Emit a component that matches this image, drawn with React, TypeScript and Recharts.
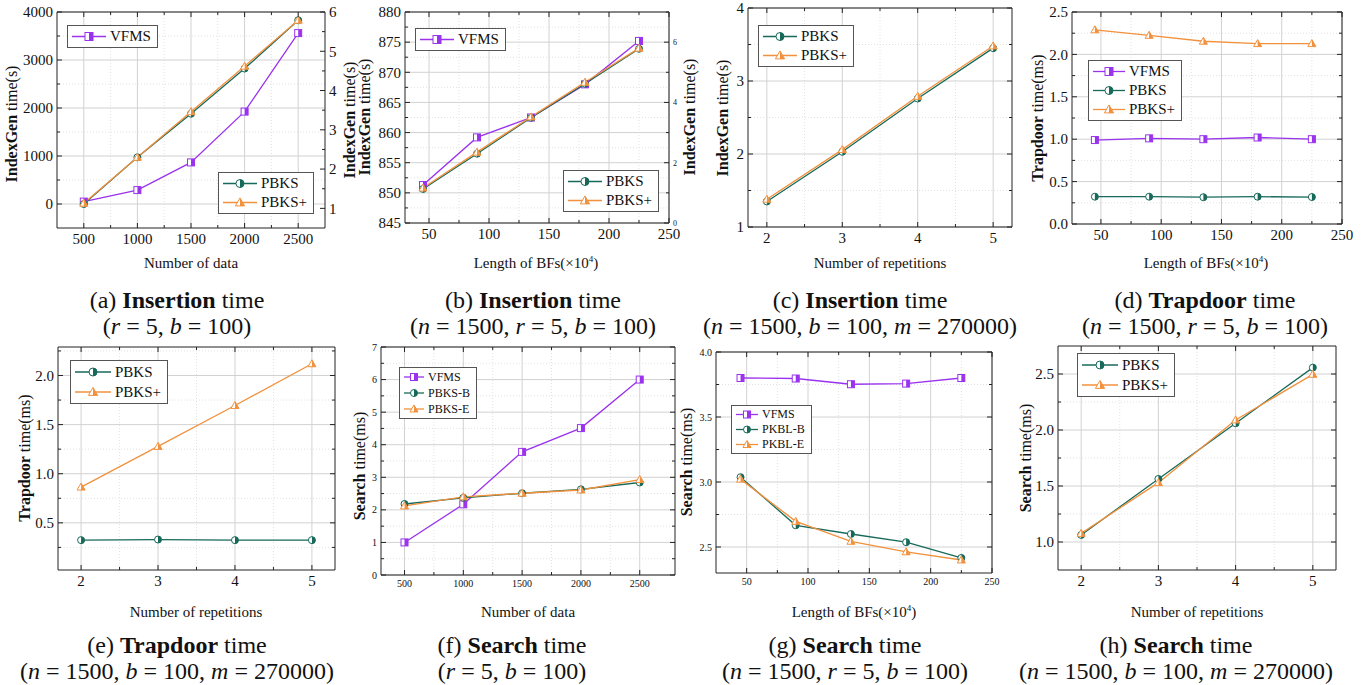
import React from "react";
import { CartesianGrid, Legend, Line, LineChart, XAxis, YAxis } from "recharts";

const SERIF = '"Liberation Serif", "Times New Roman", serif';
const PURPLE = "#9a32ee";
const GREEN = "#17695a";
const ORANGE = "#f2913d";

// x values
const dataCounts = [500, 1000, 1500, 2000, 2500];
const bfLengths = [45, 90, 135, 180, 225];
const repetitions = [2, 3, 4, 5];

// (a) insertion time vs number of data (VFMS on left axis, PBKS on right axis)
const insVfmsByData = [50, 290, 866, 1925, 3560];
const insPbksByData = [1.11, 2.3, 3.41, 4.56, 5.79];
const insPbksPlusByData = [1.13, 2.3, 3.46, 4.62, 5.79];
// (b) insertion time vs length of BFs
const insVfmsByBf = [851.3, 859.2, 862.5, 868.0, 875.2];
const insPbksByBf = [1.13, 2.3, 3.49, 4.62, 5.78];
const insPbksPlusByBf = [1.16, 2.35, 3.52, 4.67, 5.8];
// (c) insertion time vs repetitions
const insPbksByRep = [1.35, 2.03, 2.76, 3.45];
const insPbksPlusByRep = [1.38, 2.06, 2.79, 3.48];
// (d) trapdoor time vs length of BFs
const trapVfmsByBf = [0.99, 1.01, 1.0, 1.02, 1.0];
const trapPbksByBf = [0.322, 0.322, 0.316, 0.322, 0.318];
const trapPbksPlusByBf = [2.29, 2.225, 2.155, 2.127, 2.127];
// (e) trapdoor time vs repetitions
const trapPbksByRep = [0.324, 0.33, 0.324, 0.324];
const trapPbksPlusByRep = [0.864, 1.278, 1.695, 2.119];
// (f) search time vs number of data
const srchVfmsByData = [1.0, 2.17, 3.78, 4.51, 6.0];
const srchPbksBByData = [2.18, 2.37, 2.51, 2.63, 2.84];
const srchPbksEByData = [2.12, 2.4, 2.51, 2.61, 2.93];
// (g) search time vs length of BFs
const srchVfmsByBf = [3.8, 3.796, 3.752, 3.757, 3.8];
const srchPkblBByBf = [3.037, 2.667, 2.6, 2.537, 2.416];
const srchPkblEByBf = [3.022, 2.697, 2.544, 2.463, 2.4];
// (h) search time vs repetitions
const srchPbksByRep = [1.063, 1.563, 2.06, 2.557];
const srchPbksPlusByRep = [1.077, 1.53, 2.09, 2.497];

// tick values
const countMajor = [500, 1000, 1500, 2000, 2500];
const countMinor = [750, 1250, 1750, 2250];
const bfMajor = [50, 100, 150, 200, 250];
const bfMinor = [75, 125, 175, 225];
const repMajor = [2, 3, 4, 5];
const repMinor = [2.5, 3.5, 4.5];

type Shape = "square" | "circle" | "triangle";

function Marker({ cx, cy, shape, color, size = 7 }: { cx: number; cy: number; shape: Shape; color: string; size?: number }) {
  const h = size / 2;
  if (shape === "square") {
    return (
      <g>
        <rect x={cx - h} y={cy - h} width={size} height={size} fill="#fff" stroke={color} strokeWidth={1} />
        <rect x={cx} y={cy - h} width={h} height={size} fill={color} />
      </g>
    );
  }
  if (shape === "circle") {
    return (
      <g>
        <circle cx={cx} cy={cy} r={h} fill="#fff" stroke={color} strokeWidth={1} />
        <path d={`M${cx},${cy - h} A${h},${h} 0 0 1 ${cx},${cy + h} Z`} fill={color} />
      </g>
    );
  }
  const top = cy - h * 1.15;
  const bot = cy + h * 0.85;
  const hw = h * 1.15;
  return (
    <g>
      <polygon points={`${cx},${top} ${cx + hw},${bot} ${cx - hw},${bot}`} fill="#fff" stroke={color} strokeWidth={1} />
      <polygon points={`${cx},${top} ${cx + hw},${bot} ${cx},${bot}`} fill={color} />
    </g>
  );
}

function Tick(props: any) {
  const { x, y, payload, side, majors, fmt, fontSize, showLabel } = props;
  const v = payload.value;
  const major = majors.some((m: number) => Math.abs(m - v) < 1e-9);
  const len = major ? 5 : 3;
  const ts = { fontFamily: SERIF, fontSize, fill: "#111" };
  if (side === "bottom") {
    return (
      <g>
        <line x1={x} y1={y} x2={x} y2={y - len} stroke="#222" />
        {major && showLabel && (
          <text x={x} y={y + 3} dy="0.85em" textAnchor="middle" style={ts}>
            {fmt(v)}
          </text>
        )}
      </g>
    );
  }
  if (side === "top") {
    return <line x1={x} y1={y} x2={x} y2={y + len} stroke="#222" />;
  }
  if (side === "left") {
    return (
      <g>
        <line x1={x} y1={y} x2={x + len} y2={y} stroke="#222" />
        {major && showLabel && (
          <text x={x - 4} y={y} dy="0.35em" textAnchor="end" style={ts}>
            {fmt(v)}
          </text>
        )}
      </g>
    );
  }
  return (
    <g>
      <line x1={x} y1={y} x2={x - len} y2={y} stroke="#222" />
      {major && showLabel && (
        <text x={x + 4} y={y} dy="0.35em" textAnchor="start" style={ts}>
          {fmt(v)}
        </text>
      )}
    </g>
  );
}

type SeriesDef = { key: string; name: string; color: string; shape: Shape; right?: boolean; values: number[] };
type LegendGroup = { left: number; top: number; keys: string[] };
type RightAxis = { domain: [number, number]; major: number[]; minor: number[]; fontSize: number };

type PanelProps = {
  box: [number, number, number, number];
  xs: number[];
  series: SeriesDef[];
  xDomain: [number, number];
  xMajor: number[];
  xMinor: number[];
  yDomain: [number, number];
  yMajor: number[];
  yMinor: number[];
  yFmt: (v: number) => string;
  right?: RightAxis;
  tickFont: number;
  legends: LegendGroup[];
  legendFont: number;
  rowH: number;
  lineLen: number;
};

const PAD = { l: 46, r: 36, t: 8, b: 26 };
const sorted = (a: number[], b: number[]) => [...a, ...b].sort((p, q) => p - q);
const plain = (v: number) => String(v);

function LegendBoxes({ payload, groups, series, fontSize, rowH, lineLen, ox, oy }: any) {
  return (
    <div style={{ position: "relative", width: "100%", height: "100%" }}>
      {groups.map((g: LegendGroup, gi: number) => (
        <div
          key={gi}
          style={{
            position: "absolute",
            left: g.left - ox,
            top: g.top - oy,
            border: "1px solid #555",
            background: "#fff",
            padding: "1px 6px 1px 3px",
            fontFamily: SERIF,
            fontSize,
            color: "#111",
            lineHeight: `${rowH}px`,
          }}
        >
          {g.keys.map((k) => {
            const item = (payload || []).find((p: any) => p.dataKey === k);
            const s = series.find((d: SeriesDef) => d.key === k);
            if (!item || !s) return null;
            return (
              <div key={k} style={{ display: "flex", alignItems: "center", height: rowH, whiteSpace: "nowrap" }}>
                <svg width={lineLen} height={rowH} style={{ marginRight: 3 }}>
                  <line x1={1} y1={rowH / 2} x2={lineLen - 1} y2={rowH / 2} stroke={item.color} strokeWidth={1.3} />
                  <Marker cx={lineLen / 2} cy={rowH / 2} shape={s.shape} color={s.color} size={fontSize > 13 ? 8 : 7} />
                </svg>
                <span>{item.value}</span>
              </div>
            );
          })}
        </div>
      ))}
    </div>
  );
}

function Panel(p: PanelProps) {
  const [bx, by, bw, bh] = p.box;
  const W = bw + PAD.l + PAD.r;
  const H = bh + PAD.t + PAD.b;
  const ox = bx - PAD.l;
  const oy = by - PAD.t;
  const data = p.xs.map((x, i) => {
    const row: Record<string, number> = { x };
    p.series.forEach((s) => (row[s.key] = s.values[i]));
    return row;
  });
  const xTicks = sorted(p.xMajor, p.xMinor);
  const yTicks = sorted(p.yMajor, p.yMinor);
  const r = p.right;
  const rTicks = r ? sorted(r.major, r.minor) : yTicks;
  return (
    <div style={{ position: "absolute", left: ox, top: oy }}>
      <LineChart width={W} height={H} data={data} margin={{ top: PAD.t - 1, right: 0, bottom: 0, left: 0 }}>
        <CartesianGrid horizontalValues={p.yMinor} verticalValues={p.xMinor} stroke="#e2e2e2" strokeDasharray="1 2" />
        <CartesianGrid horizontalValues={p.yMajor} verticalValues={p.xMajor} stroke="#d2d2d2" />
        <XAxis
          dataKey="x"
          type="number"
          domain={p.xDomain}
          ticks={xTicks}
          interval={0}
          allowDataOverflow
          height={PAD.b}
          tickSize={0}
          tickMargin={0}
          tickLine={false}
          axisLine={{ stroke: "#222" }}
          tick={<Tick side="bottom" majors={p.xMajor} fmt={plain} fontSize={p.tickFont} showLabel />}
        />
        <XAxis
          xAxisId="top"
          dataKey="x"
          orientation="top"
          type="number"
          domain={p.xDomain}
          ticks={xTicks}
          interval={0}
          allowDataOverflow
          height={1}
          tickSize={0}
          tickMargin={0}
          tickLine={false}
          axisLine={{ stroke: "#222" }}
          tick={<Tick side="top" majors={p.xMajor} />}
        />
        <YAxis
          type="number"
          domain={p.yDomain}
          ticks={yTicks}
          interval={0}
          allowDataOverflow
          width={PAD.l}
          tickSize={0}
          tickMargin={0}
          tickLine={false}
          axisLine={{ stroke: "#222" }}
          tick={<Tick side="left" majors={p.yMajor} fmt={p.yFmt} fontSize={p.tickFont} showLabel />}
        />
        <YAxis
          yAxisId="right"
          orientation="right"
          type="number"
          domain={r ? r.domain : p.yDomain}
          ticks={rTicks}
          interval={0}
          allowDataOverflow
          width={PAD.r}
          tickSize={0}
          tickMargin={0}
          tickLine={false}
          axisLine={{ stroke: "#222" }}
          tick={<Tick side="right" majors={r ? r.major : p.yMajor} fmt={plain} fontSize={r ? r.fontSize : p.tickFont} showLabel={!!r} />}
        />
        {p.series.map((s) => (
          <Line
            key={s.key}
            dataKey={s.key}
            name={s.name}
            yAxisId={s.right ? "right" : 0}
            stroke={s.color}
            strokeWidth={1.3}
            isAnimationActive={false}
            activeDot={false}
            dot={(d: any) => <Marker key={`${s.key}-${d.index}`} cx={d.cx} cy={d.cy} shape={s.shape} color={s.color} />}
          />
        ))}
        <Legend
          layout="vertical"
          align="center"
          verticalAlign="middle"
          wrapperStyle={{ left: 0, top: 0, width: W, height: H, pointerEvents: "none" }}
          content={(lp: any) => (
            <LegendBoxes
              payload={lp.payload}
              groups={p.legends}
              series={p.series}
              fontSize={p.legendFont}
              rowH={p.rowH}
              lineLen={p.lineLen}
              ox={ox}
              oy={oy}
            />
          )}
        />
      </LineChart>
    </div>
  );
}

function YTitle({ x, y, bold, rest }: { x: number; y: number; bold: string; rest: string }) {
  return (
    <div
      style={{
        position: "absolute",
        left: x,
        top: y,
        transform: "translate(-50%, -50%) rotate(-90deg)",
        whiteSpace: "nowrap",
        fontFamily: SERIF,
        fontSize: 16,
        color: "#111",
      }}
    >
      <b>{bold}</b>
      {rest}
    </div>
  );
}

function XTitle({ x, y, children }: { x: number; y: number; children: React.ReactNode }) {
  return (
    <div
      style={{
        position: "absolute",
        left: x,
        top: y,
        transform: "translate(-50%, -50%)",
        whiteSpace: "nowrap",
        fontFamily: SERIF,
        fontSize: 15,
        color: "#111",
      }}
    >
      {children}
    </div>
  );
}

function Caption({ x, y, line1, line2 }: { x: number; y: number; line1: React.ReactNode; line2: React.ReactNode }) {
  return (
    <div
      style={{
        position: "absolute",
        left: x,
        top: y,
        transform: "translate(-50%, 0)",
        whiteSpace: "nowrap",
        textAlign: "center",
        fontFamily: SERIF,
        fontSize: 24,
        lineHeight: "26px",
        color: "#111",
      }}
    >
      <div>{line1}</div>
      <div>{line2}</div>
    </div>
  );
}

const BF = (
  <>
    Length of BFs(×10<sup style={{ fontSize: 9 }}>4</sup>)
  </>
);
const fix1 = (v: number) => v.toFixed(1);

export default function App() {
  return (
    <div style={{ position: "absolute", left: 0, top: 0, width: 1371, height: 685, background: "#fff", overflow: "hidden" }}>
      <Panel
        box={[57, 12, 268, 216]}
        xs={dataCounts}
        series={[
          { key: "vfms", name: "VFMS", color: PURPLE, shape: "square", values: insVfmsByData },
          { key: "pbks", name: "PBKS", color: GREEN, shape: "circle", right: true, values: insPbksByData },
          { key: "pbksp", name: "PBKS+", color: ORANGE, shape: "triangle", right: true, values: insPbksPlusByData },
        ]}
        xDomain={[250, 2750]}
        xMajor={countMajor}
        xMinor={countMinor}
        yDomain={[-500, 4000]}
        yMajor={[0, 1000, 2000, 3000, 4000]}
        yMinor={[500, 1500, 2500, 3500]}
        yFmt={plain}
        right={{ domain: [0.5, 6], major: [1, 2, 3, 4, 5, 6], minor: [1.5, 2.5, 3.5, 4.5, 5.5], fontSize: 15 }}
        tickFont={15}
        legends={[
          { left: 67, top: 25, keys: ["vfms"] },
          { left: 218, top: 172, keys: ["pbks", "pbksp"] },
        ]}
        legendFont={15}
        rowH={19}
        lineLen={36}
      />
      <Panel
        box={[405, 12, 264, 211]}
        xs={bfLengths}
        series={[
          { key: "vfms", name: "VFMS", color: PURPLE, shape: "square", values: insVfmsByBf },
          { key: "pbks", name: "PBKS", color: GREEN, shape: "circle", right: true, values: insPbksByBf },
          { key: "pbksp", name: "PBKS+", color: ORANGE, shape: "triangle", right: true, values: insPbksPlusByBf },
        ]}
        xDomain={[30, 250]}
        xMajor={bfMajor}
        xMinor={bfMinor}
        yDomain={[845, 880]}
        yMajor={[845, 850, 855, 860, 865, 870, 875, 880]}
        yMinor={[847.5, 852.5, 857.5, 862.5, 867.5, 872.5, 877.5]}
        yFmt={plain}
        right={{ domain: [0, 7], major: [0, 2, 4, 6], minor: [1, 3, 5, 7], fontSize: 8 }}
        tickFont={15}
        legends={[
          { left: 415, top: 28, keys: ["vfms"] },
          { left: 563, top: 170, keys: ["pbks", "pbksp"] },
        ]}
        legendFont={15}
        rowH={19}
        lineLen={36}
      />
      <Panel
        box={[748, 8, 264, 219]}
        xs={repetitions}
        series={[
          { key: "pbks", name: "PBKS", color: GREEN, shape: "circle", values: insPbksByRep },
          { key: "pbksp", name: "PBKS+", color: ORANGE, shape: "triangle", values: insPbksPlusByRep },
        ]}
        xDomain={[1.75, 5.25]}
        xMajor={repMajor}
        xMinor={repMinor}
        yDomain={[1, 4]}
        yMajor={[1, 2, 3, 4]}
        yMinor={[1.5, 2.5, 3.5]}
        yFmt={plain}
        tickFont={15}
        legends={[{ left: 758, top: 25, keys: ["pbks", "pbksp"] }]}
        legendFont={15}
        rowH={19}
        lineLen={36}
      />
      <Panel
        box={[1072, 12, 270, 212]}
        xs={bfLengths}
        series={[
          { key: "vfms", name: "VFMS", color: PURPLE, shape: "square", values: trapVfmsByBf },
          { key: "pbks", name: "PBKS", color: GREEN, shape: "circle", values: trapPbksByBf },
          { key: "pbksp", name: "PBKS+", color: ORANGE, shape: "triangle", values: trapPbksPlusByBf },
        ]}
        xDomain={[26, 250]}
        xMajor={bfMajor}
        xMinor={bfMinor}
        yDomain={[0, 2.5]}
        yMajor={[0, 0.5, 1, 1.5, 2, 2.5]}
        yMinor={[0.25, 0.75, 1.25, 1.75, 2.25]}
        yFmt={fix1}
        tickFont={15}
        legends={[{ left: 1088, top: 60, keys: ["vfms", "pbks", "pbksp"] }]}
        legendFont={15}
        rowH={19}
        lineLen={34}
      />
      <Panel
        box={[58, 347, 277, 223]}
        xs={repetitions}
        series={[
          { key: "pbks", name: "PBKS", color: GREEN, shape: "circle", values: trapPbksByRep },
          { key: "pbksp", name: "PBKS+", color: ORANGE, shape: "triangle", values: trapPbksPlusByRep },
        ]}
        xDomain={[1.7, 5.3]}
        xMajor={repMajor}
        xMinor={repMinor}
        yDomain={[0.02, 2.29]}
        yMajor={[0.5, 1, 1.5, 2]}
        yMinor={[0.25, 0.75, 1.25, 1.75, 2.25]}
        yFmt={fix1}
        tickFont={15}
        legends={[{ left: 70, top: 360, keys: ["pbks", "pbksp"] }]}
        legendFont={15}
        rowH={20}
        lineLen={38}
      />
      <Panel
        box={[381, 347, 294, 228]}
        xs={dataCounts}
        series={[
          { key: "vfms", name: "VFMS", color: PURPLE, shape: "square", values: srchVfmsByData },
          { key: "pbksb", name: "PBKS-B", color: GREEN, shape: "circle", values: srchPbksBByData },
          { key: "pbkse", name: "PBKS-E", color: ORANGE, shape: "triangle", values: srchPbksEByData },
        ]}
        xDomain={[300, 2800]}
        xMajor={countMajor}
        xMinor={countMinor}
        yDomain={[0, 7]}
        yMajor={[0, 1, 2, 3, 4, 5, 6, 7]}
        yMinor={[0.5, 1.5, 2.5, 3.5, 4.5, 5.5, 6.5]}
        yFmt={plain}
        tickFont={10}
        legends={[{ left: 399, top: 367, keys: ["vfms", "pbksb", "pbkse"] }]}
        legendFont={12}
        rowH={16}
        lineLen={22}
      />
      <Panel
        box={[716, 352, 276, 221]}
        xs={bfLengths}
        series={[
          { key: "vfms", name: "VFMS", color: PURPLE, shape: "square", values: srchVfmsByBf },
          { key: "pkblb", name: "PKBL-B", color: GREEN, shape: "circle", values: srchPkblBByBf },
          { key: "pkble", name: "PKBL-E", color: ORANGE, shape: "triangle", values: srchPkblEByBf },
        ]}
        xDomain={[25, 250]}
        xMajor={bfMajor}
        xMinor={bfMinor}
        yDomain={[2.3, 4.0]}
        yMajor={[2.5, 3, 3.5, 4]}
        yMinor={[2.75, 3.25, 3.75]}
        yFmt={fix1}
        tickFont={10}
        legends={[{ left: 731, top: 405, keys: ["vfms", "pkblb", "pkble"] }]}
        legendFont={12}
        rowH={15}
        lineLen={24}
      />
      <Panel
        box={[1058, 346, 278, 224]}
        xs={repetitions}
        series={[
          { key: "pbks", name: "PBKS", color: GREEN, shape: "circle", values: srchPbksByRep },
          { key: "pbksp", name: "PBKS+", color: ORANGE, shape: "triangle", values: srchPbksPlusByRep },
        ]}
        xDomain={[1.7, 5.3]}
        xMajor={repMajor}
        xMinor={repMinor}
        yDomain={[0.75, 2.75]}
        yMajor={[1, 1.5, 2, 2.5]}
        yMinor={[1.25, 1.75, 2.25]}
        yFmt={fix1}
        tickFont={15}
        legends={[{ left: 1077, top: 353, keys: ["pbks", "pbksp"] }]}
        legendFont={15}
        rowH={20}
        lineLen={38}
      />

      <YTitle x={12} y={124} bold="IndexGen" rest=" time(s)" />
      <YTitle x={350} y={120} bold="IndexGen" rest=" time(s)" />
      <YTitle x={365} y={117} bold="IndexGen" rest=" time(s)" />
      <YTitle x={690} y={117} bold="IndexGen" rest=" time(s)" />
      <YTitle x={723} y={118} bold="IndexGen" rest=" time(s)" />
      <YTitle x={1038} y={118} bold="Trapdoor" rest=" time(ms)" />
      <YTitle x={25} y={458} bold="Trapdoor" rest=" time(ms)" />
      <YTitle x={360} y={466} bold="Search" rest=" time(ms)" />
      <YTitle x={687} y={462} bold="Search" rest=" time(ms)" />
      <YTitle x={1026} y={458} bold="Search" rest=" time(ms)" />

      <XTitle x={191} y={263}>Number of data</XTitle>
      <XTitle x={536} y={263}>{BF}</XTitle>
      <XTitle x={880} y={263}>Number of repetitions</XTitle>
      <XTitle x={1206} y={263}>{BF}</XTitle>
      <XTitle x={196} y={612}>Number of repetitions</XTitle>
      <XTitle x={528} y={612}>Number of data</XTitle>
      <XTitle x={854} y={612}>{BF}</XTitle>
      <XTitle x={1197} y={612}>Number of repetitions</XTitle>

      <Caption x={177} y={287} line1={<>(a) <b>Insertion</b> time</>} line2={<>(<i>r</i> = 5, <i>b</i> = 100)</>} />
      <Caption x={533} y={287} line1={<>(b) <b>Insertion</b> time</>} line2={<>(<i>n</i> = 1500, <i>r</i> = 5, <i>b</i> = 100)</>} />
      <Caption x={860} y={287} line1={<>(c) <b>Insertion</b> time</>} line2={<>(<i>n</i> = 1500, <i>b</i> = 100, <i>m</i> = 270000)</>} />
      <Caption x={1205} y={287} line1={<>(d) <b>Trapdoor</b> time</>} line2={<>(<i>n</i> = 1500, <i>r</i> = 5, <i>b</i> = 100)</>} />
      <Caption x={177} y={632} line1={<>(e) <b>Trapdoor</b> time</>} line2={<>(<i>n</i> = 1500, <i>b</i> = 100, <i>m</i> = 270000)</>} />
      <Caption x={512} y={632} line1={<>(f) <b>Search</b> time</>} line2={<>(<i>r</i> = 5, <i>b</i> = 100)</>} />
      <Caption x={845} y={632} line1={<>(g) <b>Search</b> time</>} line2={<>(<i>n</i> = 1500, <i>r</i> = 5, <i>b</i> = 100)</>} />
      <Caption x={1176} y={632} line1={<>(h) <b>Search</b> time</>} line2={<>(<i>n</i> = 1500, <i>b</i> = 100, <i>m</i> = 270000)</>} />
    </div>
  );
}
